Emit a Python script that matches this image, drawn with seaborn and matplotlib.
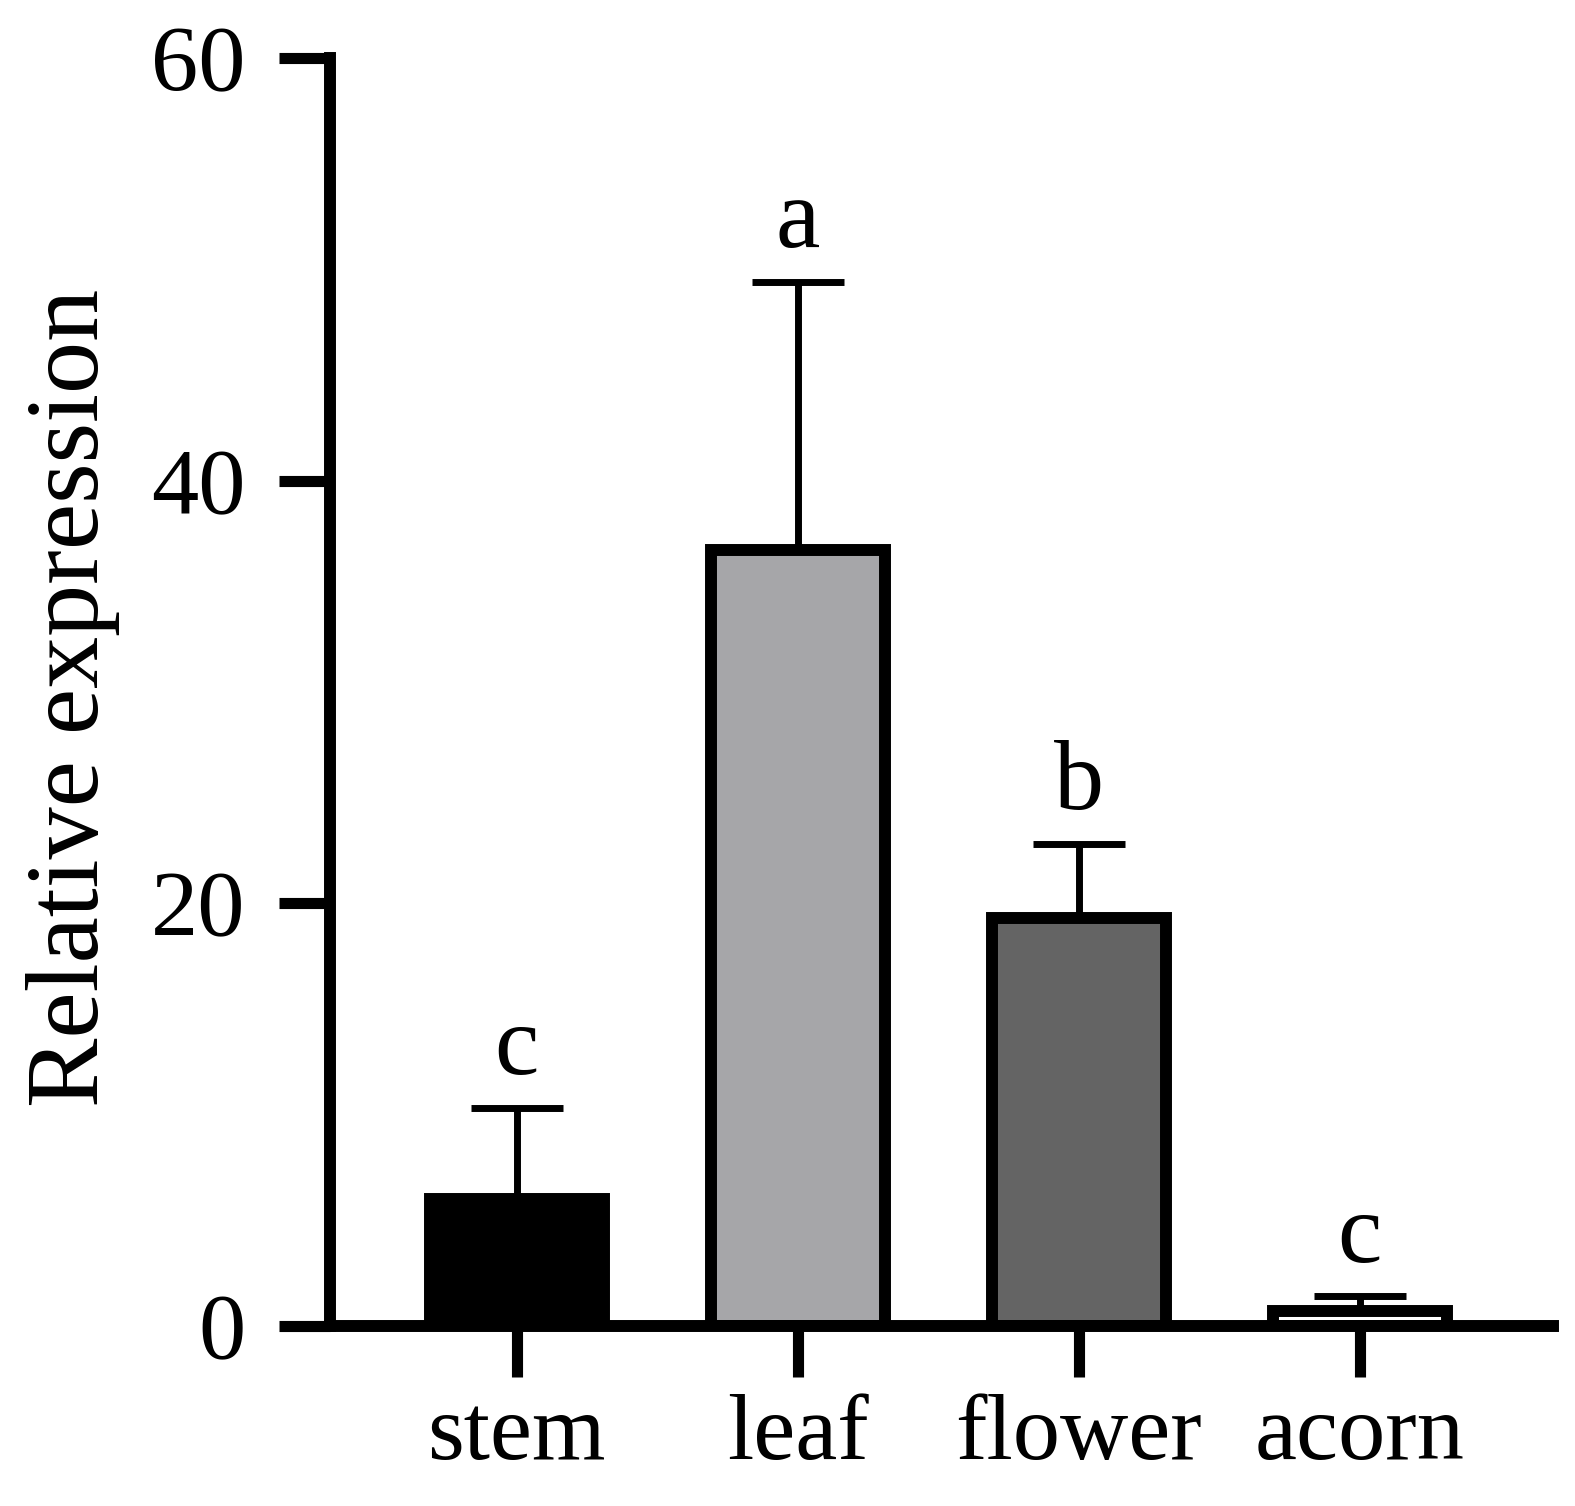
import matplotlib
matplotlib.use("Agg")
import matplotlib.pyplot as plt
import seaborn as sns

# values
tissues = ["stem", "leaf", "flower", "acorn"]
means = [6.0, 36.7, 19.3, 0.7]
errors = [4.3, 12.7, 3.5, 0.7]
letters = ["c", "a", "b", "c"]
bar_colors = ["#000000", "#a5a5aa", "#646464", "#ffffff"]
y_ticks = [0, 20, 40, 60]

sns.set_style("ticks")
plt.rcParams["font.family"] = ["Liberation Serif", "DejaVu Serif"]
plt.rcParams.update({
    "text.color": "black",
    "axes.labelcolor": "black",
    "axes.edgecolor": "black",
    "xtick.color": "black",
    "ytick.color": "black",
})

fig = plt.figure(figsize=(15.75, 15.06), dpi=100)
ax = fig.add_axes([0.2095, 0.1195, 0.7765, 0.842])

sns.barplot(x=tissues, y=means, hue=tissues, palette=bar_colors, legend=False,
            width=0.62, edgecolor="black", linewidth=8.6, errorbar=None, ax=ax)

ax.errorbar(range(len(tissues)), means, yerr=[[0] * len(errors), errors],
            fmt="none", ecolor="black", elinewidth=5, capsize=33, capthick=5,
            zorder=1)

for i, (m, e, t) in enumerate(zip(means, errors, letters)):
    ax.annotate(t, (i, m + e), xytext=(0, 25), textcoords="offset points",
                ha="center", va="baseline", fontsize=72)

ax.set_xlim(-0.665, 3.687)
ax.set_ylim(0, 60)
ax.set_yticks(y_ticks)
ax.set_xlabel("")
ax.set_ylabel("Relative expression", fontsize=75)
ax.yaxis.set_label_coords(-0.172, 0.495)

sns.despine(ax=ax)
for s in ["left", "bottom"]:
    ax.spines[s].set_linewidth(8.6)
ax.tick_params(axis="both", length=37, width=8, labelsize=68)
ax.tick_params(axis="y", pad=24)
ax.tick_params(axis="x", pad=12)

fig.savefig("out.png", dpi=100)
